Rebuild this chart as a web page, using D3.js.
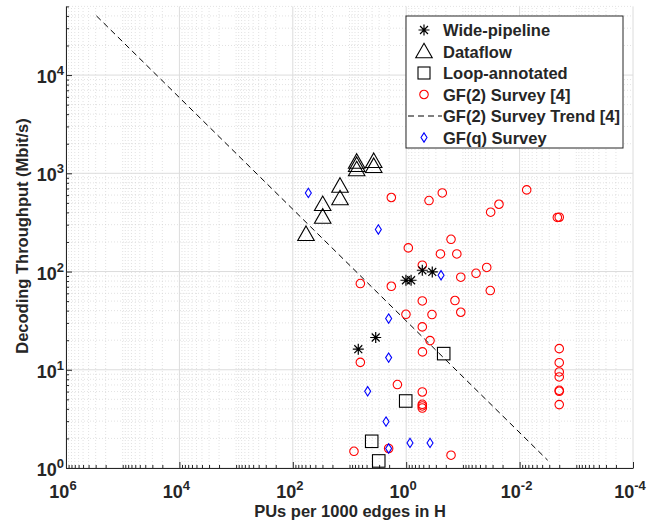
<!DOCTYPE html>
<meta charset="utf-8">
<style>
body { margin: 0; background: #fff; }
text { font-family: "Liberation Sans", Arial, sans-serif; font-weight: bold; fill: #262626; }
.major { stroke: #dcdcdc; stroke-width: 1px; }
.minor { stroke: #cfcfcf; stroke-width: .6px; stroke-dasharray: 1,2; }
</style>
<body>
<script src="https://cdn.jsdelivr.net/npm/d3@7"></script>
<script>

var width = 662,
    height = 525;

// Wide-pipeline (asterisks)
var wideX = [7.0, 3.45, 1.01, 0.82, 0.52, 0.347];
var wideY = [16.2, 21.3, 81.5, 81.5, 103, 99];

// Dataflow (triangles)
var flowX = [58.5, 29.7, 29.7, 14.7, 14.7, 7.47, 7.47, 7.47, 3.74, 3.74];
var flowY = [240, 360, 484, 554, 744, 1093, 1210, 1306, 1181, 1327];

// Loop-annotated (squares)
var loopX = [0.218, 1.02, 4.06, 3.05];
var loopY = [14.6, 4.81, 1.87, 1.18];

// GF(2) survey [4] (circles)
var gf2X = [1.83, 0.396, 0.231, 0.0075, 0.0324, 0.0231, 0.00216, 0.0020, 0.162, 0.918,
            0.249, 0.128, 0.52, 0.038, 0.0587, 0.109, 6.44, 1.83, 0.0329, 0.52,
            0.138, 0.109, 1.01, 0.351, 0.52, 0.38, 0.517, 6.44, 1.43, 0.52,
            0.52, 0.52, 0.52, 8.34, 2.04, 0.162,
            0.002, 0.002, 0.002, 0.002, 0.002, 0.002, 0.002];
var gf2Y = [567, 528, 631, 678, 402, 484, 355, 357, 213, 174,
            151, 151, 116, 110, 96, 87.5, 75.5, 70.8, 64, 50.2,
            50.7, 38.5, 36.7, 36.5, 27.3, 19.8, 15.2, 11.9, 7.07, 5.94,
            4.45, 4.28, 4.08, 1.48, 1.58, 1.35,
            16.4, 11.8, 9.5, 8.45, 6.18, 6.04, 4.42];

// GF(2) survey trend [4]
var trendX = [2.9e5, 3.2e-3];
var trendY = [4.0e4, 1.2];

// GF(q) survey (diamonds)
var gfqX = [53.2, 3.1, 0.243, 2.04, 2.04, 4.78, 2.27, 2.04, 0.857, 0.38];
var gfqY = [631, 268, 91.7, 33.2, 13.3, 6.04, 2.97, 1.58, 1.80, 1.80];

var xTicks = [1e6, 1e4, 1e2, 1e0, 1e-2, 1e-4];
var yTicks = [1e0, 1e1, 1e2, 1e3, 1e4];

var legendNames = ["Wide-pipeline", "Dataflow", "Loop-annotated",
                   "GF(2) Survey [4]", "GF(2) Survey Trend [4]", "GF(q) Survey"];

var x = d3.scaleLog().domain([1e6, 1e-4]).range([66, 633]);
var y = d3.scaleLog().domain([1, 5e4]).range([468, 6.4]);

var svg = d3.select("body").append("svg")
    .attr("width", width)
    .attr("height", height);

// minor grid values
var xMinor = [], yMinor = [];
for (var e = -4; e < 6; e++) {
  for (var k = 1; k < 10; k++) {
    var v = k * Math.pow(10, e);
    if (k === 1 && e % 2 === 0) continue;
    xMinor.push(v);
  }
}
for (var e = 0; e < 5; e++) {
  for (var k = 2; k < 10; k++) {
    var v = k * Math.pow(10, e);
    if (v <= 5e4) yMinor.push(v);
  }
}

var grid = svg.append("g");
grid.selectAll(".xm").data(xMinor).enter().append("line")
    .attr("class", "minor")
    .attr("x1", x).attr("x2", x)
    .attr("y1", y(1)).attr("y2", y(5e4));
grid.selectAll(".ym").data(yMinor).enter().append("line")
    .attr("class", "minor")
    .attr("x1", x(1e6)).attr("x2", x(1e-4))
    .attr("y1", y).attr("y2", y);
grid.selectAll(".xM").data(xTicks).enter().append("line")
    .attr("class", "major")
    .attr("x1", x).attr("x2", x)
    .attr("y1", y(1)).attr("y2", y(5e4));
grid.selectAll(".yM").data(yTicks).enter().append("line")
    .attr("class", "major")
    .attr("x1", x(1e6)).attr("x2", x(1e-4))
    .attr("y1", y).attr("y2", y);

// axes
var xAxis = d3.axisBottom(x).tickValues(xTicks.concat(xMinor)).tickFormat("")
    .tickSizeInner(0).tickSizeOuter(0);
var gx = svg.append("g").attr("transform", "translate(0," + y(1) + ")").call(xAxis);
gx.selectAll(".tick line")
    .attr("y2", function(d) { return xTicks.indexOf(d) >= 0 ? -6 : -3; });
var yAxis = d3.axisLeft(y).tickValues(yTicks.concat(yMinor)).tickFormat("")
    .tickSizeInner(0).tickSizeOuter(0);
var gy = svg.append("g").attr("transform", "translate(" + x(1e6) + ",0)").call(yAxis);
gy.selectAll(".tick line")
    .attr("x2", function(d) { return yTicks.indexOf(d) >= 0 ? 6 : 3; });
svg.selectAll(".domain, .tick line").attr("stroke", "#262626");

function expLabel(sel, d) {
  var ex = Math.round(Math.log10(d));
  sel.append("tspan").text("10");
  sel.append("tspan").attr("dy", -8).style("font-size", "13px").text(ex);
}

svg.selectAll(".xl").data(xTicks).enter().append("text")
    .attr("x", function(d) { return x(d) - 3; })
    .attr("y", y(1) + 30)
    .attr("text-anchor", "middle")
    .style("font-size", "18px")
    .each(function(d) { expLabel(d3.select(this), d); });

svg.selectAll(".yl").data(yTicks).enter().append("text")
    .attr("x", x(1e6) - 2)
    .attr("y", function(d) { return y(d) + 8; })
    .attr("text-anchor", "end")
    .style("font-size", "18px")
    .each(function(d) { expLabel(d3.select(this), d); });

svg.append("text")
    .attr("x", 350).attr("y", 517)
    .attr("text-anchor", "middle")
    .style("font-size", "16.5px")
    .text("PUs per 1000 edges in H");

svg.append("text")
    .attr("transform", "translate(28,236) rotate(-90)")
    .attr("text-anchor", "middle")
    .style("font-size", "16.5px")
    .text("Decoding Throughput (Mbit/s)");

// marker shapes
function star(g, s) {
  var r = s / 2, d = r * 0.72;
  g.append("path")
      .attr("d", "M" + (-r) + ",0H" + r + "M0," + (-r) + "V" + r +
                 "M" + (-d) + "," + (-d) + "L" + d + "," + d +
                 "M" + (-d) + "," + d + "L" + d + "," + (-d))
      .attr("stroke", "#000").attr("stroke-width", 1.2).attr("fill", "none");
}
function tri(g, s) {
  g.append("path")
      .attr("d", "M0," + (-s * 0.55) + "L" + (s * 0.55) + "," + (s * 0.42) + "L" + (-s * 0.55) + "," + (s * 0.42) + "Z")
      .attr("stroke", "#000").attr("stroke-width", 1.1).attr("fill", "none");
}
function square(g, s) {
  g.append("rect").attr("x", -s / 2).attr("y", -s / 2).attr("width", s).attr("height", s)
      .attr("stroke", "#000").attr("stroke-width", 1.1).attr("fill", "none");
}
function circle(g, s) {
  g.append("circle").attr("r", s / 2)
      .attr("stroke", "#ff0000").attr("stroke-width", 1.1).attr("fill", "none");
}
function diamond(g, s) {
  g.append("path")
      .attr("d", "M0," + (-s * 0.62) + "L" + (s * 0.4) + ",0L0," + (s * 0.62) + "L" + (-s * 0.4) + ",0Z")
      .attr("stroke", "#0000ff").attr("stroke-width", 1.1).attr("fill", "none");
}

function plotSeries(xs, ys, shape, size) {
  svg.append("g").selectAll("g").data(xs).enter().append("g")
      .attr("transform", function(d, i) { return "translate(" + x(d) + "," + y(ys[i]) + ")"; })
      .each(function() { shape(d3.select(this), size); });
}

// trend line
svg.append("path")
    .datum(trendX.map(function(d, i) { return [d, trendY[i]]; }))
    .attr("d", d3.line().x(function(d) { return x(d[0]); }).y(function(d) { return y(d[1]); }))
    .attr("stroke", "#000").attr("stroke-width", 1)
    .attr("stroke-dasharray", "6,4").attr("fill", "none");

plotSeries(gf2X, gf2Y, circle, 8.5);
plotSeries(gfqX, gfqY, diamond, 7.5);
plotSeries(loopX, loopY, square, 12.5);
plotSeries(flowX, flowY, tri, 15);
plotSeries(wideX, wideY, star, 11);

// legend
var lg = svg.append("g").attr("transform", "translate(406,16)");
lg.append("rect").attr("width", 217).attr("height", 132)
    .attr("fill", "#fff").attr("stroke", "#262626").attr("stroke-width", 1);
var shapes = [star, tri, square, circle, null, diamond];
var sizes = [11, 15, 12, 8.5, 0, 7.5];
legendNames.forEach(function(name, i) {
  var cy = 14 + i * 21.5;
  var mg = lg.append("g").attr("transform", "translate(18," + cy + ")");
  if (shapes[i]) shapes[i](mg, sizes[i]);
  else mg.append("line").attr("x1", -16).attr("x2", 18)
      .attr("stroke", "#000").attr("stroke-dasharray", "6,4");
  lg.append("text").attr("x", 37).attr("y", cy + 6)
      .style("font-size", "16.5px").text(name);
});

</script>
</body>
